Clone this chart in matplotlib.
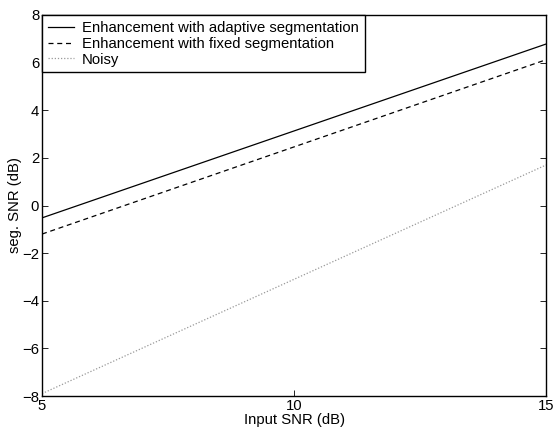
import matplotlib
matplotlib.use("Agg")
import matplotlib.pyplot as plt

plt.rcParams['font.family'] = ['Liberation Sans', 'DejaVu Sans']

# data
input_snr = [5, 15]
adaptive = [-0.52, 6.78]
fixed = [-1.2, 6.12]
noisy = [-7.9, 1.7]

x_ticks = [5, 10, 15]
y_ticks = [-8, -6, -4, -2, 0, 2, 4, 6, 8]

fig = plt.figure(figsize=(5.55, 4.28), dpi=100)
ax = fig.add_axes([42 / 555, 32 / 428, 504 / 555, 381 / 428])

ax.plot(input_snr, adaptive, color='black', linestyle='-', linewidth=0.9,
        label='Enhancement with adaptive segmentation')
ax.plot(input_snr, fixed, color='black', linestyle=(0, (4, 3)), linewidth=0.9,
        label='Enhancement with fixed segmentation')
ax.plot(input_snr, noisy, color='#999999', linestyle=(0, (1, 1.5)), linewidth=0.9,
        label='Noisy')

ax.set_xlim(5, 15)
ax.set_ylim(-8, 8)
ax.set_xticks(x_ticks)
ax.set_yticks(y_ticks)
ax.tick_params(direction='in', top=True, right=True, length=4, width=0.6,
               labelsize=10.7, pad=2)
for s in ax.spines.values():
    s.set_linewidth(1.0)

ax.set_xlabel('Input SNR (dB)', fontsize=10.7, labelpad=0)
ax.set_ylabel('seg. SNR (dB)', fontsize=10.7, labelpad=0)

leg = ax.legend(loc='upper left', borderaxespad=0, fancybox=False,
                framealpha=1, edgecolor='black', fontsize=10.7,
                handlelength=1.75, handletextpad=0.55, labelspacing=0.12,
                borderpad=0.4)
leg.get_frame().set_linewidth(1.0)

fig.savefig('out.png', dpi=100)
